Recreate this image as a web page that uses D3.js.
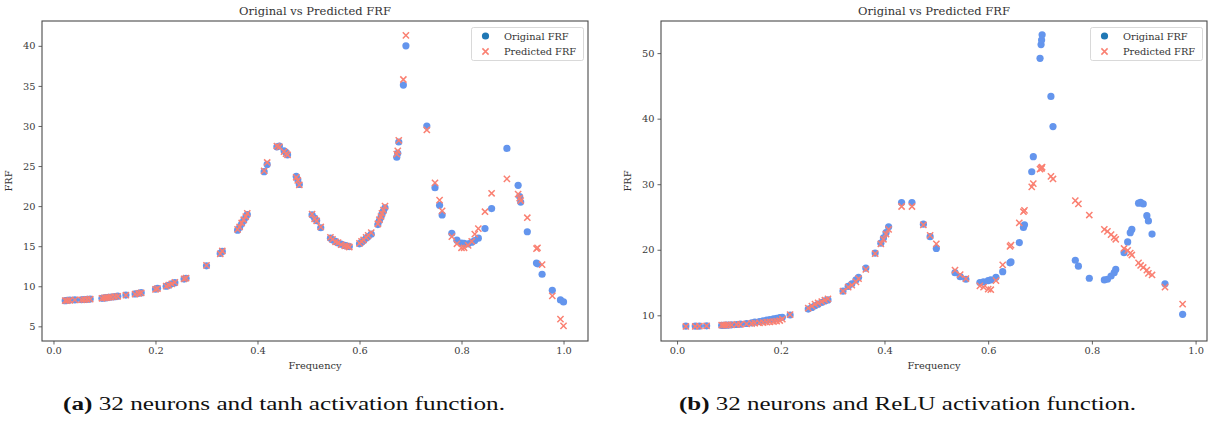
<!DOCTYPE html>
<html>
<head>
<meta charset="utf-8">
<script src="https://cdn.jsdelivr.net/npm/d3@7"></script>
<style>
  body { margin: 0; background: #fff; }
  svg text { font-family: "DejaVu Serif", serif; }
</style>
</head>
<body>
<svg id="chart" width="1209" height="421"></svg>
<script>
// ---- Panel (a): 32 neurons, tanh activation ----
const tanhFreq = [0.023, 0.027, 0.032, 0.042, 0.055, 0.060, 0.066, 0.072, 0.095, 0.100, 0.104, 0.108, 0.113, 0.120, 0.126, 0.142, 0.160, 0.167, 0.172, 0.200, 0.204, 0.221, 0.226, 0.232, 0.238, 0.256, 0.260, 0.300, 0.327, 0.331, 0.361, 0.365, 0.369, 0.373, 0.377, 0.380, 0.413, 0.419, 0.438, 0.443, 0.452, 0.456, 0.459, 0.476, 0.479, 0.482, 0.507, 0.512, 0.516, 0.524, 0.543, 0.547, 0.553, 0.558, 0.564, 0.571, 0.576, 0.580, 0.600, 0.604, 0.608, 0.613, 0.617, 0.623, 0.636, 0.639, 0.642, 0.644, 0.647, 0.650, 0.673, 0.675, 0.677, 0.686, 0.691, 0.732, 0.748, 0.757, 0.762, 0.781, 0.791, 0.800, 0.805, 0.813, 0.820, 0.826, 0.833, 0.846, 0.859, 0.889, 0.911, 0.914, 0.916, 0.929, 0.947, 0.949, 0.958, 0.978, 0.994, 1.000];
const tanhOriginal = [8.20, 8.25, 8.28, 8.30, 8.32, 8.35, 8.36, 8.40, 8.50, 8.55, 8.58, 8.62, 8.66, 8.70, 8.76, 8.90, 9.05, 9.12, 9.20, 9.65, 9.75, 10.00, 10.12, 10.30, 10.45, 10.90, 11.00, 12.55, 14.10, 14.35, 17.00, 17.35, 17.80, 18.20, 18.60, 18.95, 24.30, 25.20, 27.40, 27.50, 26.90, 26.70, 26.40, 23.70, 23.30, 22.70, 18.90, 18.50, 18.20, 17.30, 16.00, 15.80, 15.60, 15.40, 15.25, 15.10, 15.00, 14.95, 15.30, 15.50, 15.70, 16.00, 16.20, 16.50, 17.70, 18.20, 18.60, 19.00, 19.40, 19.80, 26.10, 26.60, 28.00, 35.10, 40.00, 30.00, 22.30, 20.10, 18.90, 16.60, 15.75, 15.40, 15.35, 15.30, 15.50, 15.70, 16.00, 17.20, 19.70, 27.20, 22.60, 21.20, 20.50, 16.80, 12.90, 12.80, 11.50, 9.50, 8.30, 8.05];
const tanhPredicted = [8.20, 8.22, 8.25, 8.30, 8.30, 8.33, 8.35, 8.40, 8.50, 8.55, 8.58, 8.60, 8.65, 8.70, 8.75, 8.88, 9.02, 9.10, 9.18, 9.62, 9.72, 10.02, 10.15, 10.30, 10.48, 10.92, 11.02, 12.60, 14.05, 14.40, 17.10, 17.40, 17.90, 18.30, 18.70, 19.10, 24.40, 25.45, 27.50, 27.40, 26.80, 26.55, 26.40, 23.60, 23.20, 22.65, 19.00, 18.40, 18.15, 17.40, 16.10, 15.85, 15.55, 15.45, 15.20, 15.05, 15.00, 14.90, 15.35, 15.60, 15.80, 16.10, 16.35, 16.70, 17.80, 18.30, 18.70, 19.10, 19.50, 20.00, 26.50, 26.90, 28.20, 35.80, 41.30, 29.50, 22.90, 20.75, 19.40, 16.20, 15.30, 14.80, 14.80, 15.10, 15.60, 16.50, 17.20, 19.30, 21.60, 23.40, 21.50, 21.00, 20.70, 18.55, 14.70, 14.80, 12.70, 8.80, 5.90, 5.05];

// ---- Panel (b): 32 neurons, ReLU activation ----
const reluFreq = [0.017, 0.035, 0.043, 0.057, 0.086, 0.090, 0.094, 0.099, 0.105, 0.115, 0.122, 0.134, 0.144, 0.150, 0.159, 0.166, 0.173, 0.179, 0.186, 0.192, 0.198, 0.203, 0.218, 0.253, 0.260, 0.266, 0.272, 0.279, 0.285, 0.291, 0.320, 0.330, 0.337, 0.345, 0.350, 0.364, 0.382, 0.393, 0.398, 0.403, 0.408, 0.433, 0.453, 0.475, 0.488, 0.500, 0.536, 0.546, 0.557, 0.584, 0.591, 0.600, 0.605, 0.615, 0.628, 0.642, 0.644, 0.660, 0.668, 0.670, 0.684, 0.687, 0.700, 0.702, 0.703, 0.704, 0.721, 0.725, 0.768, 0.774, 0.795, 0.824, 0.830, 0.837, 0.843, 0.846, 0.862, 0.869, 0.874, 0.877, 0.890, 0.894, 0.899, 0.906, 0.909, 0.916, 0.941, 0.975];
const reluOriginal = [8.35, 8.35, 8.35, 8.40, 8.45, 8.45, 8.50, 8.50, 8.55, 8.60, 8.65, 8.75, 8.85, 8.95, 9.05, 9.15, 9.25, 9.35, 9.45, 9.55, 9.65, 9.70, 10.05, 10.95, 11.20, 11.45, 11.70, 11.95, 12.20, 12.35, 13.70, 14.40, 14.80, 15.40, 15.80, 17.20, 19.50, 21.00, 21.80, 22.60, 23.50, 27.20, 27.20, 23.90, 22.00, 20.20, 16.50, 15.90, 15.50, 15.00, 15.10, 15.30, 15.40, 15.80, 16.65, 18.00, 18.15, 21.10, 23.40, 23.80, 31.90, 34.20, 49.20, 51.30, 52.00, 52.80, 43.40, 38.80, 18.40, 17.50, 15.65, 15.40, 15.50, 16.00, 16.50, 17.00, 19.55, 21.20, 22.60, 23.10, 27.10, 27.25, 27.00, 25.20, 24.40, 22.40, 14.80, 10.15];
const reluPredicted = [8.30, 8.30, 8.35, 8.40, 8.50, 8.50, 8.50, 8.55, 8.55, 8.60, 8.60, 8.70, 8.75, 8.80, 8.85, 8.90, 8.95, 9.00, 9.05, 9.10, 9.20, 9.40, 10.10, 11.10, 11.40, 11.70, 11.90, 12.10, 12.30, 12.50, 13.70, 14.30, 14.60, 15.10, 15.60, 17.00, 19.40, 20.90, 21.60, 22.40, 23.10, 26.60, 26.60, 23.80, 22.20, 20.90, 16.90, 16.20, 15.60, 14.50, 14.30, 14.00, 13.90, 15.30, 17.70, 20.50, 20.70, 24.10, 25.80, 26.00, 29.60, 30.10, 32.30, 32.50, 32.40, 32.60, 31.20, 30.80, 27.50, 27.00, 25.30, 23.10, 22.80, 22.30, 21.90, 21.60, 20.20, 19.90, 19.50, 19.20, 18.00, 17.60, 17.30, 16.90, 16.40, 16.15, 14.30, 11.70];

// ---- Tick values ----
const freqTicks = [0.0, 0.2, 0.4, 0.6, 0.8, 1.0];
const tanhFrfTicks = [5, 10, 15, 20, 25, 30, 35, 40];
const reluFrfTicks = [10, 20, 30, 40, 50];

const chartTitle = "Original vs Predicted FRF";
const legendLabels = ["Original FRF", "Predicted FRF"];

const COL_ORIG = "#6495ED";
const COL_PRED = "#FA8072";
const COL_ORIG_LEGEND = "#1f77b4";
const INK = "#3a3a3a";

const svg = d3.select("#chart");

function crossPath(s) {
  return `M${-s},${-s}L${s},${s}M${-s},${s}L${s},${-s}`;
}

function drawPanel(cfg) {
  const w = cfg.right - cfg.left, h = cfg.bottom - cfg.top;
  const g = svg.append("g").attr("transform", `translate(${cfg.left},${cfg.top})`);

  const x = d3.scaleLinear().domain(cfg.xDomain).range([0, w]);
  const y = d3.scaleLinear().domain(cfg.yDomain).range([h, 0]);

  // axes
  const xAxis = g.append("g").attr("transform", `translate(0,${h})`)
    .call(d3.axisBottom(x).tickValues(freqTicks).tickFormat(d3.format(".1f")).tickSize(3.5).tickSizeOuter(0).tickPadding(3));
  const yAxis = g.append("g")
    .call(d3.axisLeft(y).tickValues(cfg.yTicks).tickFormat(d3.format("d")).tickSize(3.5).tickSizeOuter(0).tickPadding(3));
  [xAxis, yAxis].forEach(a => {
    a.select(".domain").remove();
    a.selectAll(".tick line").attr("stroke", INK).attr("stroke-width", 0.8);
    a.selectAll(".tick text").attr("fill", INK).style("font-size", "9.8px").style("font-family", '"DejaVu Serif", serif');
  });

  // frame
  g.append("rect").attr("x", 0).attr("y", 0).attr("width", w).attr("height", h)
    .attr("fill", "none").attr("stroke", "#4a4a4a").attr("stroke-width", 1.1);

  const pts = cfg.freq.map((f, i) => ({ f, o: cfg.original[i], p: cfg.predicted[i] }));

  g.append("g").selectAll("circle").data(pts).join("circle")
    .attr("cx", d => x(d.f)).attr("cy", d => y(d.o)).attr("r", 3.6)
    .attr("fill", COL_ORIG);

  g.append("g").selectAll("path").data(pts).join("path")
    .attr("transform", d => `translate(${x(d.f)},${y(d.p)})`)
    .attr("d", crossPath(3.1))
    .attr("stroke", COL_PRED).attr("stroke-width", 1.5).attr("fill", "none");

  // title and axis labels
  g.append("text").attr("x", w / 2).attr("y", -6).attr("text-anchor", "middle")
    .attr("fill", "#333").style("font-size", "11.5px").text(chartTitle);
  g.append("text").attr("x", w / 2).attr("y", h + 28).attr("text-anchor", "middle")
    .attr("fill", "#333").style("font-size", "9.8px").text("Frequency");
  g.append("text").attr("transform", `translate(${cfg.yLabelX},${h / 2}) rotate(-90)`)
    .attr("text-anchor", "middle").attr("fill", "#333").style("font-size", "9.8px").text("FRF");

  // legend
  const lw = 112, lh = 33;
  const lg = g.append("g").attr("transform", `translate(${w - lw - 4.5},${6.5})`);
  lg.append("rect").attr("width", lw).attr("height", lh).attr("rx", 2)
    .attr("fill", "#fff").attr("fill-opacity", 0.85).attr("stroke", "#d5d5d5").attr("stroke-width", 0.9);
  lg.append("circle").attr("cx", 14).attr("cy", 8.5).attr("r", 3.6).attr("fill", COL_ORIG_LEGEND);
  lg.append("path").attr("transform", "translate(14,24)").attr("d", crossPath(3.1))
    .attr("stroke", COL_PRED).attr("stroke-width", 1.5);
  lg.append("text").attr("x", 32.5).attr("y", 12).attr("fill", "#333").style("font-size", "9.8px").text(legendLabels[0]);
  lg.append("text").attr("x", 32.5).attr("y", 27.5).attr("fill", "#333").style("font-size", "9.8px").text(legendLabels[1]);
}

drawPanel({
  left: 42, right: 588, top: 21, bottom: 341,
  xDomain: [-0.0225, 1.048], yDomain: [3.17, 43.1],
  yTicks: tanhFrfTicks, yLabelX: -30,
  freq: tanhFreq, original: tanhOriginal, predicted: tanhPredicted
});

drawPanel({
  left: 661, right: 1207, top: 21, bottom: 341,
  xDomain: [-0.031, 1.022], yDomain: [6.08, 54.9],
  yTicks: reluFrfTicks, yLabelX: -30,
  freq: reluFreq, original: reluOriginal, predicted: reluPredicted
});

// sub-figure captions
function caption(xStart, tag, body, width) {
  const t = svg.append("text").attr("x", xStart).attr("y", 410)
    .style("font-family", '"Liberation Serif", serif').style("font-size", "18px").attr("fill", "#111")
    .attr("textLength", width).attr("lengthAdjust", "spacingAndGlyphs");
  t.append("tspan").attr("font-weight", "bold").text(tag);
  t.append("tspan").text(" " + body);
}
caption(63, "(a)", "32 neurons and tanh activation function.", 442);
caption(679, "(b)", "32 neurons and ReLU activation function.", 457);
</script>
</body>
</html>
